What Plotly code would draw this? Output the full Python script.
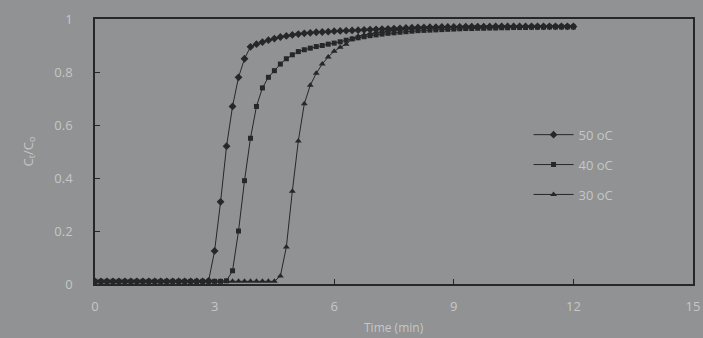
import plotly.graph_objects as go

time_min = [0.0, 0.15, 0.3, 0.45, 0.6, 0.75, 0.9, 1.05, 1.2, 1.35, 1.5, 1.65, 1.8, 1.95, 2.1, 2.25,
            2.4, 2.55, 2.7, 2.85, 3.0, 3.15, 3.3, 3.45, 3.6, 3.75, 3.9, 4.05, 4.2, 4.35, 4.5, 4.65,
            4.8, 4.95, 5.1, 5.25, 5.4, 5.55, 5.7, 5.85, 6.0, 6.15, 6.3, 6.45, 6.6, 6.75, 6.9, 7.05,
            7.2, 7.35, 7.5, 7.65, 7.8, 7.95, 8.1, 8.25, 8.4, 8.55, 8.7, 8.85, 9.0, 9.15, 9.3, 9.45,
            9.6, 9.75, 9.9, 10.05, 10.2, 10.35, 10.5, 10.65, 10.8, 10.95, 11.1, 11.25, 11.4, 11.55,
            11.7, 11.85, 12.0]

c50 = [0.01, 0.01, 0.01, 0.01, 0.01, 0.01, 0.01, 0.01, 0.01, 0.01, 0.01, 0.01, 0.01, 0.01, 0.01, 0.01,
       0.01, 0.01, 0.01, 0.012, 0.125, 0.31, 0.52, 0.67, 0.78, 0.85, 0.895, 0.905, 0.913, 0.92, 0.926, 0.932,
       0.936, 0.94, 0.943, 0.946, 0.948, 0.95, 0.951, 0.952, 0.954, 0.955, 0.956, 0.957, 0.958, 0.959, 0.96, 0.961,
       0.962, 0.963, 0.964, 0.965, 0.966, 0.967, 0.968, 0.968, 0.969, 0.969, 0.97, 0.97, 0.97, 0.97, 0.971, 0.971,
       0.971, 0.971, 0.971, 0.972, 0.972, 0.972, 0.972, 0.972, 0.972, 0.972, 0.972, 0.972, 0.972, 0.972,
       0.972, 0.972, 0.972]

c40 = [0.01, 0.01, 0.01, 0.01, 0.01, 0.01, 0.01, 0.01, 0.01, 0.01, 0.01, 0.01, 0.01, 0.01, 0.01, 0.01,
       0.01, 0.01, 0.01, 0.01, 0.01, 0.01, 0.012, 0.05, 0.2, 0.39, 0.55, 0.67, 0.74, 0.78, 0.805, 0.83,
       0.85, 0.865, 0.877, 0.884, 0.89, 0.896, 0.9, 0.905, 0.909, 0.914, 0.92, 0.925, 0.929, 0.933, 0.937, 0.94,
       0.943, 0.946, 0.948, 0.95, 0.952, 0.954, 0.956, 0.957, 0.958, 0.959, 0.96, 0.961, 0.962, 0.963, 0.964, 0.964,
       0.965, 0.965, 0.966, 0.966, 0.967, 0.967, 0.968, 0.968, 0.968, 0.969, 0.969, 0.969, 0.97, 0.97,
       0.97, 0.97, 0.97]

c30 = [0.01, 0.01, 0.01, 0.01, 0.01, 0.01, 0.01, 0.01, 0.01, 0.01, 0.01, 0.01, 0.01, 0.01, 0.01, 0.01,
       0.01, 0.01, 0.01, 0.01, 0.01, 0.01, 0.01, 0.01, 0.01, 0.01, 0.01, 0.01, 0.01, 0.01, 0.01, 0.03,
       0.14, 0.35, 0.54, 0.68, 0.75, 0.795, 0.83, 0.857, 0.878, 0.893, 0.905, 0.925, 0.935, 0.94, 0.945, 0.95,
       0.953, 0.956, 0.96, 0.962, 0.964, 0.966, 0.967, 0.968, 0.969, 0.97, 0.971, 0.972, 0.972, 0.973, 0.973, 0.974,
       0.974, 0.974, 0.975, 0.975, 0.975, 0.975, 0.975, 0.975, 0.975, 0.975, 0.975, 0.975, 0.975, 0.975,
       0.975, 0.975, 0.975]

series_names = ["50 oC", "40 oC", "30 oC"]
series_values = [c50, c40, c30]
series_symbols = ["diamond", "square", "triangle-up"]
series_sizes = [6, 5, 6]

x_ticks = [0, 3, 6, 9, 12, 15]
y_ticks = [0, 0.2, 0.4, 0.6, 0.8, 1]
y_tick_text = ["0", "0.2", "0.4", "0.6", "0.8", "1"]

BG = "#909293"
INK = "#262728"
LABEL = "#c6c7c8"
FONT = "Open Sans"

fig = go.Figure()
for i, (name, vals, sym, sz) in enumerate(zip(series_names, series_values, series_symbols, series_sizes)):
    fig.add_trace(go.Scatter(
        x=time_min, y=vals, name=name, mode="lines+markers",
        legendgroup=f"g{i}",
        line=dict(color=INK, width=1),
        marker=dict(symbol=sym, size=sz, color=INK),
    ))

axis_common = dict(
    showgrid=False, zeroline=False, showline=True, mirror=True, automargin=False,
    linecolor=INK, linewidth=1.5, ticks="inside", ticklen=5, tickcolor=INK,
    tickfont=dict(family=FONT, size=13, color=LABEL),
)

fig.update_layout(
    width=703, height=338,
    margin=dict(l=95, r=10, t=19, b=54),
    paper_bgcolor=BG, plot_bgcolor=BG,
    font=dict(family=FONT, color=LABEL),
    xaxis=dict(range=[0, 15], tickvals=x_ticks, ticklabelstandoff=10, **axis_common),
    yaxis=dict(range=[0, 1], tickvals=y_ticks, ticktext=y_tick_text, ticklabelstandoff=18, **axis_common),
    showlegend=True,
    legend=dict(
        x=0.725, y=0.62, xanchor="left", yanchor="top",
        bgcolor="rgba(0,0,0,0)", font=dict(family=FONT, size=13, color=LABEL),
        tracegroupgap=10, itemwidth=40,
    ),
    annotations=[
        dict(text="Time (min)", x=7.5, xref="x", y=-0.165, yref="paper",
             showarrow=False, font=dict(family=FONT, size=12, color=LABEL),
             xanchor="center", yanchor="middle"),
        dict(text="C<sub>t</sub>/C<sub>o</sub>", x=-0.112, xref="paper", y=0.5, yref="paper",
             textangle=-90, showarrow=False, font=dict(family=FONT, size=13, color=LABEL),
             xanchor="center", yanchor="middle"),
    ],
)

fig.write_html("out.html", config={"displayModeBar": False},
               post_script="document.body.style.margin='0';document.body.style.overflow='hidden';")
